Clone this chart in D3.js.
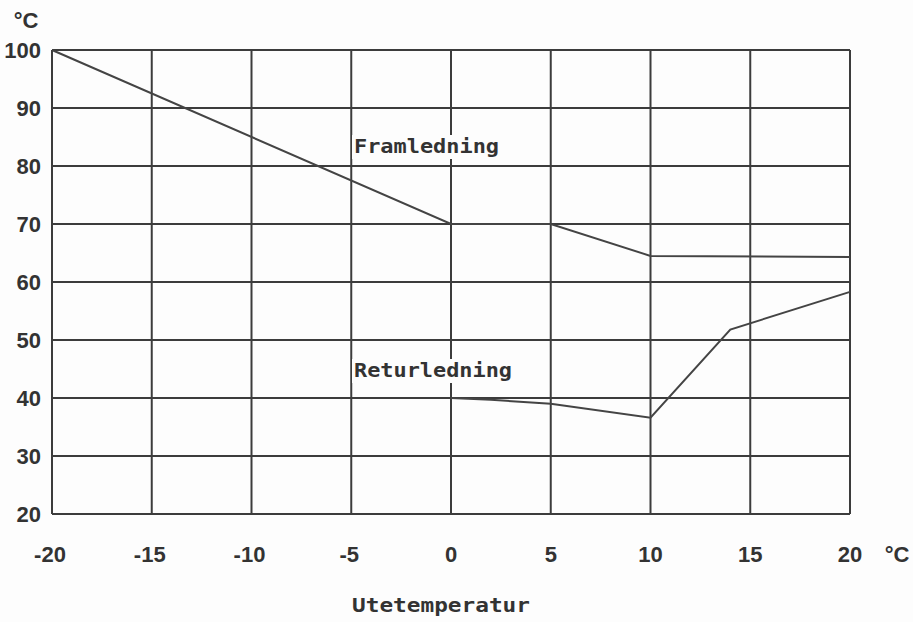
<!DOCTYPE html>
<html>
<head>
<meta charset="utf-8">
<script src="https://cdn.jsdelivr.net/npm/d3@7"></script>
<style>
  body { margin: 0; background: #fdfdfd; }
  text { fill: #333; }
</style>
</head>
<body>
<div id="chart"></div>
<script>
// values
var xTicks  = [-20, -15, -10, -5, 0, 5, 10, 15, 20];
var yTicks  = [20, 30, 40, 50, 60, 70, 80, 90, 100];
var framX   = [-20, 0, 5, 10, 20];
var framY   = [100, 70, 70, 64.5, 64.3];
var returX  = [0, 2, 5, 10, 14, 20];
var returY  = [40, 39.7, 39, 36.6, 51.8, 58.3];

var width = 913, height = 622;
var mLeft = 52, mRight = 850, mTop = 50, mBottom = 514;

var svg = d3.select("#chart").append("svg")
  .attr("width", width)
  .attr("height", height);

var x = d3.scaleLinear().domain([-20, 20]).range([mLeft, mRight]);
var y = d3.scaleLinear().domain([20, 100]).range([mBottom, mTop]);

var gridColor = "#3c3c3c";
var tickFont = "bold 22px 'Liberation Sans', Arial, sans-serif";

// grid
svg.append("g").selectAll("line")
  .data(xTicks).enter().append("line")
  .attr("x1", function(d){ return x(d); })
  .attr("x2", function(d){ return x(d); })
  .attr("y1", mTop).attr("y2", mBottom)
  .style("stroke", gridColor).style("stroke-width", 2);

svg.append("g").selectAll("line")
  .data(yTicks).enter().append("line")
  .attr("x1", mLeft).attr("x2", mRight)
  .attr("y1", function(d){ return y(d); })
  .attr("y2", function(d){ return y(d); })
  .style("stroke", gridColor).style("stroke-width", 2);

// tick labels
svg.append("g").selectAll("text")
  .data(yTicks).enter().append("text")
  .attr("x", 41)
  .attr("y", function(d){ return y(d) + 8; })
  .attr("text-anchor", "end")
  .style("font", tickFont)
  .text(function(d){ return d; });

svg.append("g").selectAll("text")
  .data(xTicks).enter().append("text")
  .attr("x", function(d){ return x(d) + (d < 0 ? -2 : 0); })
  .attr("y", 562)
  .attr("text-anchor", "middle")
  .style("font", tickFont)
  .text(function(d){ return d < 0 ? "-" + Math.abs(d) : d; });

svg.append("text").attr("x", 26).attr("y", 28)
  .attr("text-anchor", "middle")
  .style("font", tickFont)
  .text("°C");

svg.append("text").attr("x", 897).attr("y", 562)
  .attr("text-anchor", "middle")
  .style("font", tickFont)
  .text("°C");

// data lines
var line = d3.line()
  .x(function(d){ return x(d[0]); })
  .y(function(d){ return y(d[1]); });

var fram = framX.map(function(v, i){ return [v, framY[i]]; });
var retur = returX.map(function(v, i){ return [v, returY[i]]; });

[fram, retur].forEach(function(pts){
  svg.append("path")
    .attr("d", line(pts))
    .style("fill", "none")
    .style("stroke", "#444")
    .style("stroke-width", 2);
});

// line labels, with a box behind so the grid breaks around them
function label(txt, x0, yBase, len) {
  svg.append("rect")
    .attr("x", x0 - 2).attr("y", yBase - 18)
    .attr("width", len + 4).attr("height", 24)
    .style("fill", "#fdfdfd");
  svg.append("text")
    .attr("x", x0).attr("y", yBase)
    .attr("textLength", len)
    .attr("lengthAdjust", "spacingAndGlyphs")
    .style("font", "bold 20px 'DejaVu Sans Mono', monospace")
    .text(txt);
}
label("Framledning", 354, 153, 145);
label("Returledning", 354, 377, 158);

svg.append("text")
  .attr("x", 352).attr("y", 612)
  .attr("textLength", 178)
  .attr("lengthAdjust", "spacingAndGlyphs")
  .style("font", "bold 20px 'DejaVu Sans Mono', monospace")
  .text("Utetemperatur");
</script>
</body>
</html>
